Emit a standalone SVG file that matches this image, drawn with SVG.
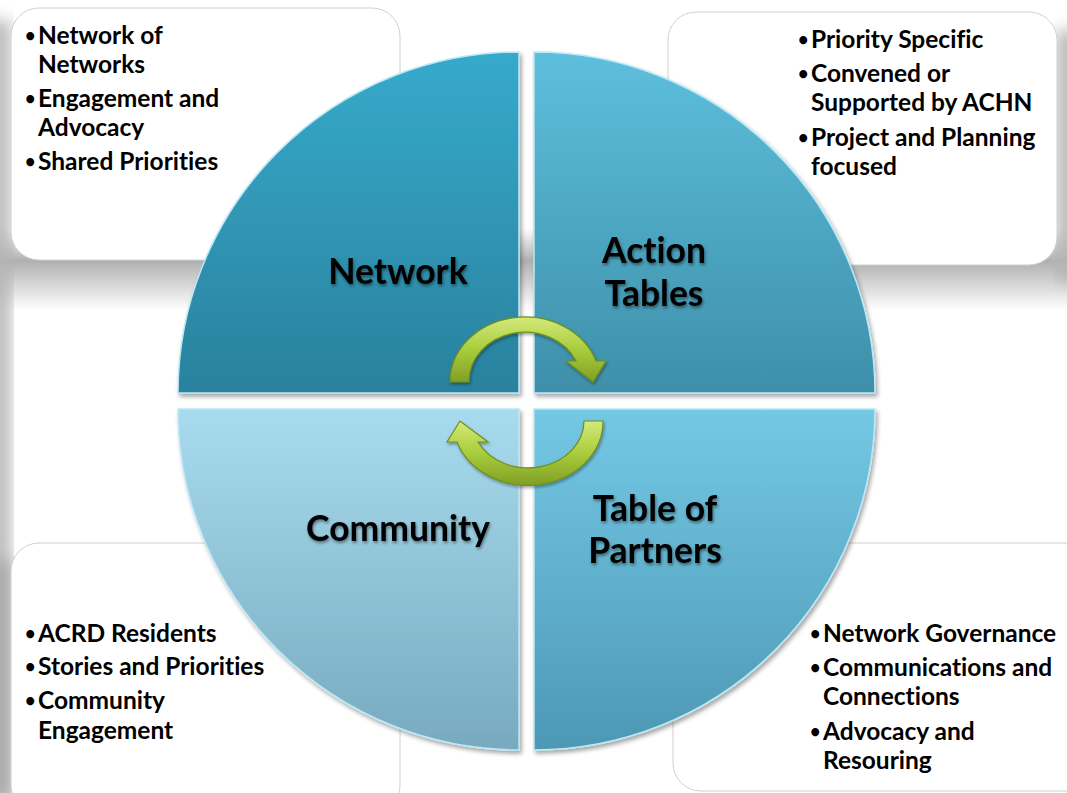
<svg xmlns="http://www.w3.org/2000/svg" width="1067" height="793" viewBox="0 0 1067 793">
<defs>
<style>
text{font-variant-ligatures:none}
.box{fill:#ffffff;stroke:#d0d0d0;stroke-width:1}
.bt{font-family:Lato,"Liberation Sans",sans-serif;font-weight:700;font-size:24.5px;fill:#000}
.bu{font-family:Lato,"Liberation Sans",sans-serif;font-weight:700;font-size:18px;fill:#000}
.ql{font-family:Lato,"Liberation Sans",sans-serif;font-weight:700;font-size:35.5px;fill:#000;text-anchor:middle;filter:url(#tshadow)}
.quad{stroke:#b9e8f6;stroke-width:1.5;filter:url(#qshadow)}
.arrow{fill:url(#gArrow);stroke:#6e8f1c;stroke-width:1.2;filter:url(#ashadow)}
</style>
<linearGradient id="gTL" x1="0" y1="0" x2="0" y2="1"><stop offset="0" stop-color="#36aacb"/><stop offset="1" stop-color="#2a819d"/></linearGradient>
<linearGradient id="gTR" x1="0" y1="0" x2="0" y2="1"><stop offset="0" stop-color="#5dbfdc"/><stop offset="1" stop-color="#3e8fa9"/></linearGradient>
<linearGradient id="gBL" x1="0" y1="0" x2="0" y2="1"><stop offset="0" stop-color="#a8dbee"/><stop offset="1" stop-color="#78aabf"/></linearGradient>
<linearGradient id="gBR" x1="0" y1="0" x2="0" y2="1"><stop offset="0" stop-color="#74c8e4"/><stop offset="1" stop-color="#4d98b4"/></linearGradient>
<linearGradient id="gArrow" x1="0" y1="0" x2="0" y2="1"><stop offset="0" stop-color="#d4ea7a"/><stop offset="0.5" stop-color="#a9cc3c"/><stop offset="1" stop-color="#7fa024"/></linearGradient>
<linearGradient id="gBand" x1="0" y1="0" x2="0" y2="1"><stop offset="0" stop-color="#ffffff"/><stop offset="0.4" stop-color="#b0b0b0"/><stop offset="1" stop-color="#ffffff"/></linearGradient>
<filter id="blur" x="-20%" y="-20%" width="140%" height="140%"><feGaussianBlur stdDeviation="8"/></filter>
<filter id="tshadow" x="-10%" y="-20%" width="120%" height="150%"><feDropShadow dx="1" dy="2" stdDeviation="1.5" flood-color="#000" flood-opacity="0.45"/></filter>
<filter id="qshadow" x="-5%" y="-5%" width="110%" height="110%"><feDropShadow dx="2" dy="3" stdDeviation="2" flood-color="#000" flood-opacity="0.35"/></filter>
<filter id="ashadow" x="-10%" y="-10%" width="120%" height="130%"><feDropShadow dx="1" dy="2" stdDeviation="1.5" flood-color="#000" flood-opacity="0.35"/></filter>
</defs>
<rect width="1067" height="793" fill="#ffffff"/>
<!-- shadows -->
<rect x="0" y="228" width="1067" height="82" fill="url(#gBand)"/>
<rect x="-10" y="20" width="20" height="780" fill="#b5b5b5" filter="url(#blur)"/>
<rect x="1057" y="30" width="20" height="250" fill="#b5b5b5" filter="url(#blur)"/>
<rect x="-10" y="560" width="20" height="240" fill="#a8a8a8" filter="url(#blur)"/>
<g id="box-network">
<rect class="box" x="11" y="8" width="389" height="252" rx="28"/>
<text class="bu"><tspan x="25" y="42">•</tspan><tspan x="25" y="105">•</tspan><tspan x="25" y="168">•</tspan></text>
<text class="bt"><tspan x="38" y="44">Network of</tspan><tspan x="38" y="73">Networks</tspan><tspan x="38" y="107">Engagement and</tspan><tspan x="38" y="136">Advocacy</tspan><tspan x="38" y="170">Shared Priorities</tspan></text>
</g>
<g id="box-action">
<rect class="box" x="668" y="12" width="389" height="253" rx="28"/>
<text class="bu"><tspan x="798" y="46">•</tspan><tspan x="798" y="80">•</tspan><tspan x="798" y="144">•</tspan></text>
<text class="bt"><tspan x="811" y="48">Priority Specific</tspan><tspan x="811" y="82">Convened or</tspan><tspan x="811" y="111">Supported by ACHN</tspan><tspan x="811" y="146">Project and Planning</tspan><tspan x="811" y="175">focused</tspan></text>
</g>
<g id="box-community">
<rect class="box" x="11" y="543" width="389" height="270" rx="28"/>
<text class="bu"><tspan x="25" y="640">•</tspan><tspan x="25" y="673">•</tspan><tspan x="25" y="707">•</tspan></text>
<text class="bt"><tspan x="38" y="642">ACRD Residents</tspan><tspan x="38" y="675">Stories and Priorities</tspan><tspan x="38" y="709">Community</tspan><tspan x="38" y="739">Engagement</tspan></text>
</g>
<g id="box-partners">
<rect class="box" x="673" y="543" width="420" height="248" rx="28"/>
<text class="bu"><tspan x="810" y="640">•</tspan><tspan x="810" y="674">•</tspan><tspan x="810" y="738">•</tspan></text>
<text class="bt"><tspan x="823" y="642">Network Governance</tspan><tspan x="823" y="676">Communications and</tspan><tspan x="823" y="705">Connections</tspan><tspan x="823" y="740">Advocacy and</tspan><tspan x="823" y="769">Resouring</tspan></text>
</g>
<g id="network">
<path class="quad" fill="url(#gTL)" d="M519 393 L178 393 A341 341 0 0 1 519 52 Z"/>
<text class="ql" x="398" y="284">Network</text>
</g>
<g id="action-tables">
<path class="quad" fill="url(#gTR)" d="M534 393 L534 52 A341 341 0 0 1 875 393 Z"/>
<text class="ql" x="654" y="263">Action</text>
<text class="ql" x="654" y="306">Tables</text>
</g>
<g id="community">
<path class="quad" fill="url(#gBL)" d="M519 409 L519 750 A341 341 0 0 1 178 409 Z"/>
<text class="ql" x="398" y="541">Community</text>
</g>
<g id="table-of-partners">
<path class="quad" fill="url(#gBR)" d="M534 409 L875 409 A341 341 0 0 1 534 750 Z"/>
<text class="ql" x="655" y="521">Table of</text>
<text class="ql" x="655" y="563">Partners</text>
</g>
<g id="connectors">
<path class="arrow" d="M450 382 A75 65 0 0 1 596 361 L606 361 L593 382 L566 361 L576 361 A56 49 0 0 0 469 382 Z"/>
<path class="arrow" d="M603 421 A75 64 0 0 1 457 442 L447 442 L460 421 L488 442 L478 442 A56 47 0 0 0 584 421 Z"/>
</g>
</svg>
